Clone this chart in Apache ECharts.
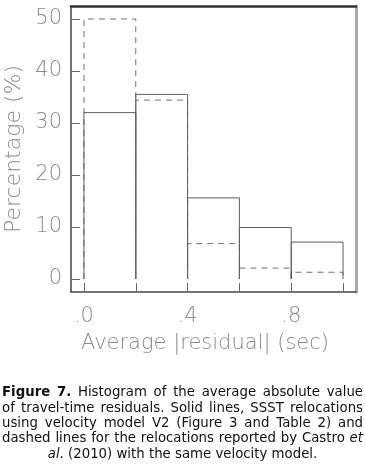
<!DOCTYPE html>
<html>
<head>
<meta charset="utf-8">
<style>
  html, body { margin: 0; padding: 0; background: #fff; }
  #chart { width: 365px; height: 464px; }
</style>
<script src="https://cdn.jsdelivr.net/npm/echarts@6/dist/echarts.min.js"></script>
</head>
<body>
<div id="chart"></div>
<script>
// histogram bins (sec) and percentages
const binEdges = [0, 0.2, 0.4, 0.6, 0.8, 1.0];
const solidPct = [32, 35.5, 15.6, 9.9, 7.1];   // SSST relocations, model V2
const dashedPct = [50, 34.4, 6.8, 2.1, 1.3];   // Castro et al. (2010)
const xTicks = [0, 0.2, 0.4, 0.6, 0.8, 1.0];
const xLabels = [0, 0.4, 0.8];
const yTicks = [0, 10, 20, 30, 40, 50];

const captionLines = [
  '*Figure* *7.* Histogram of the average absolute value',
  'of travel-time residuals. Solid lines, SSST relocations',
  'using velocity model V2 (Figure 3 and Table 2) and',
  'dashed lines for the relocations reported by Castro _et_',
  '_al_. (2010) with the same velocity model.'
];

const axisFont = 'DejaVu Sans';
const axisGray = '#8a8a8a';
const capFamily = 'DejaVu Sans';
const capLeft = 2, capRight = 363;

function binData(vals) {
  return vals.map((v, i) => [binEdges[i], binEdges[i + 1], v]);
}

function openBox(color, dash) {
  return function (params, api) {
    const p0 = api.coord([api.value(0), 0]);
    const p1 = api.coord([api.value(0), api.value(2)]);
    const p2 = api.coord([api.value(1), api.value(2)]);
    const p3 = api.coord([api.value(1), 0]);
    return {
      type: 'polyline',
      shape: { points: [p0, p1, p2, p3] },
      style: { stroke: color, lineWidth: 1, fill: null, lineDash: dash }
    };
  };
}

// caption: justified lines, last one centred
const measure = document.createElement('canvas').getContext('2d');
function cssFont(st, size) {
  const pre = st === 'b' ? 'bold ' : st === 'i' ? 'italic ' : '';
  return pre + size + 'px "' + capFamily + '"';
}
function splitWords(line, size) {
  return line.split(' ').map(w => {
    const segs = [];
    w.replace(/\*([^*]+)\*|_([^_]+)_|([^*_]+)/g, (m, b, it, n) => {
      if (b) segs.push([b, 'b']);
      else if (it) segs.push([it, 'i']);
      else segs.push([n, 'n']);
      return m;
    });
    segs.forEach(s => { measure.font = cssFont(s[1], size); s.push(measure.measureText(s[0]).width); });
    return { segs, w: segs.reduce((a, s) => a + s[2], 0) };
  });
}
function naturalWidth(line, size) {
  const words = splitWords(line, size);
  measure.font = cssFont('n', size);
  const sp = measure.measureText(' ').width;
  return words.reduce((a, w) => a + w.w, 0) + sp * (words.length - 1);
}
// pick the size at which the widest line just fits the text block
function captionSize() {
  const base = 12;
  let widest = 0;
  captionLines.forEach(l => { widest = Math.max(widest, naturalWidth(l, base)); });
  return Math.floor(base * (capRight - capLeft - 2) / widest * 10) / 10;
}
function captionGraphics() {
  const size = captionSize();
  const out = [];
  const top = 393, lead = 15.3;
  captionLines.forEach((line, li) => {
    const words = splitWords(line, size);
    measure.font = cssFont('n', size);
    const sp = measure.measureText(' ').width;
    const total = words.reduce((a, w) => a + w.w, 0);
    const last = li === captionLines.length - 1;
    let gap, x;
    if (last) {
      gap = sp;
      x = (capLeft + capRight) / 2 - (total + sp * (words.length - 1)) / 2;
    } else {
      gap = (capRight - capLeft - total) / (words.length - 1);
      x = capLeft;
    }
    const y = top + li * lead;
    words.forEach(w => {
      let sx = x;
      w.segs.forEach(s => {
        out.push({
          type: 'text', x: sx, y: y, silent: true,
          style: {
            text: s[0], fontFamily: capFamily, fontSize: size,
            fontWeight: s[1] === 'b' ? 'bold' : 'normal',
            fontStyle: s[1] === 'i' ? 'italic' : 'normal',
            fill: '#111', verticalAlign: 'middle', align: 'left'
          }
        });
        sx += s[2];
      });
      x += w.w + gap;
    });
  });
  return out;
}

const chart = echarts.init(document.getElementById('chart'), null, { renderer: 'canvas' });

const option = {
  animation: false,
  backgroundColor: '#fff',
  grid: { left: 71, right: 9, top: 6, bottom: 172 },
  xAxis: [
    {
      type: 'value', min: -0.05, max: 1.05,
      axisLine: { show: true, onZero: false, lineStyle: { color: '#444', width: 1.5 } },
      axisTick: { show: true, inside: true, length: 9, customValues: xTicks, lineStyle: { color: '#666' } },
      axisLabel: {
        customValues: xLabels, margin: 14,
        formatter: v => '.' + Math.round(v * 10),
        fontFamily: axisFont, fontSize: 21, fontWeight: 200, color: axisGray
      },
      splitLine: { show: false }
    },
    {
      type: 'value', position: 'top', min: -0.05, max: 1.05,
      axisLine: { show: true, onZero: false, lineStyle: { color: '#333', width: 2.5 } },
      axisTick: { show: false }, axisLabel: { show: false }, splitLine: { show: false }
    }
  ],
  yAxis: [
    {
      type: 'value', min: -2.5, max: 52.5,
      axisLine: { show: true, onZero: false, lineStyle: { color: '#444', width: 1.5 } },
      axisTick: { show: true, inside: true, length: 9, customValues: yTicks, lineStyle: { color: '#666' } },
      axisLabel: {
        customValues: yTicks, margin: 9,
        fontFamily: axisFont, fontSize: 21, fontWeight: 200, color: axisGray
      },
      splitLine: { show: false }
    },
    {
      type: 'value', position: 'right', min: -2.5, max: 52.5,
      axisLine: { show: true, onZero: false, lineStyle: { color: '#aaa', width: 3 } },
      axisTick: { show: false }, axisLabel: { show: false }, splitLine: { show: false }
    }
  ],
  series: [
    {
      name: 'dashed', type: 'custom', renderItem: openBox('#707070', [6, 5]),
      data: binData(dashedPct), encode: { x: [0, 1], y: 2 }
    },
    {
      name: 'solid', type: 'custom', renderItem: openBox('#606060', null),
      data: binData(solidPct), encode: { x: [0, 1], y: 2 }
    }
  ],
  graphic: [
    {
      type: 'text', x: 14, y: 149, rotation: Math.PI / 2, silent: true,
      style: { text: 'Percentage (%)', fontFamily: axisFont, fontSize: 22, fontWeight: 200, fill: axisGray, align: 'center', verticalAlign: 'middle' }
    },
    {
      type: 'text', x: 205, y: 344, silent: true,
      style: { text: 'Average |residual| (sec)', fontFamily: axisFont, fontSize: 21, fontWeight: 200, fill: axisGray, align: 'center', verticalAlign: 'middle' }
    }
  ].concat(captionGraphics())
};

chart.setOption(option);
</script>
</body>
</html>
